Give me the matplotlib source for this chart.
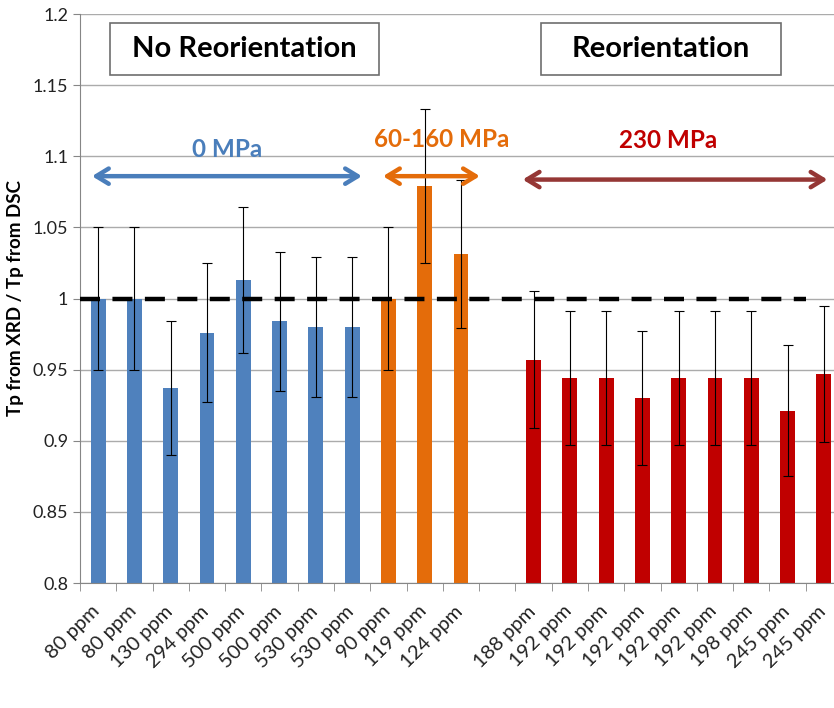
import matplotlib
matplotlib.use("Agg")
import matplotlib.pyplot as plt
import matplotlib.transforms as mtrans
from matplotlib.patches import Rectangle
import numpy as np

plt.rcParams['font.family'] = ['Lato', 'DejaVu Sans']

# bar data, slot 11 is an empty gap between the two groups
labels = ["80 ppm", "80 ppm", "130 ppm", "294 ppm", "500 ppm", "500 ppm", "530 ppm", "530 ppm",
          "90 ppm", "119 ppm", "124 ppm", "",
          "188 ppm", "192 ppm", "192 ppm", "192 ppm", "192 ppm", "192 ppm", "198 ppm", "245 ppm", "245 ppm"]
blue_vals = [1.0, 1.0, 0.937, 0.976, 1.013, 0.984, 0.980, 0.980]
blue_err = [0.050, 0.050, 0.047, 0.049, 0.051, 0.049, 0.049, 0.049]
orange_vals = [1.0, 1.079, 1.031]
orange_err = [0.050, 0.054, 0.052]
red_vals = [0.957, 0.944, 0.944, 0.930, 0.944, 0.944, 0.944, 0.921, 0.947]
red_err = [0.048, 0.047, 0.047, 0.047, 0.047, 0.047, 0.047, 0.046, 0.048]

x_blue = np.arange(0, 8)
x_orange = np.arange(8, 11)
x_red = np.arange(12, 21)

fig = plt.figure(figsize=(8.34, 7.08), dpi=100)
ax = fig.add_axes([80/834, 1-583/708, 762/834, 569/708])

ekw = dict(ecolor='black', elinewidth=0.8, capsize=3.5, capthick=0.8)
w = 0.41
ax.bar(x_blue, blue_vals, w, yerr=blue_err, color='#4F81BD', error_kw=ekw, zorder=2)
ax.bar(x_orange, orange_vals, w, yerr=orange_err, color='#E46C0A', error_kw=ekw, zorder=2)
ax.bar(x_red, red_vals, w, yerr=red_err, color='#C00000', error_kw=ekw, zorder=2)

# reference line at 1
ax.plot([-0.5, 19.5], [1.0, 1.0], color='black', lw=3.2, ls=(0, (4.5, 2.8)), zorder=3)

ax.set_xlim(-0.5, 20.5)
ax.set_ylim(0.8, 1.2)
ax.set_yticks(np.arange(0.8, 1.2001, 0.05))
ax.set_yticklabels(['0.8', '0.85', '0.9', '0.95', '1', '1.05', '1.1', '1.15', '1.2'])
ax.yaxis.grid(True, color='#ABABAB', lw=1)
ax.set_axisbelow(True)

ax.set_xticks(np.arange(21))
ax.set_xticklabels(labels, rotation=45, ha='right', rotation_mode='anchor', fontsize=14.5, color='#222222')
ax.tick_params(axis='x', length=0, pad=14)
shift = mtrans.ScaledTranslation(-5/72, 0, fig.dpi_scale_trans)
for t in ax.get_xticklabels():
    t.set_transform(t.get_transform() + shift)
ax.set_xticks(np.arange(-0.5, 21, 1), minor=True)
ax.tick_params(axis='x', which='minor', length=6, color='#868686')
ax.tick_params(axis='y', length=5, color='#868686', labelsize=13, labelcolor='#222222')

for s in ['top', 'right']:
    ax.spines[s].set_visible(False)
for s in ['left', 'bottom']:
    ax.spines[s].set_color('#868686')

ax.set_ylabel('Tp from XRD / Tp from DSC', fontsize=13.5, fontweight='bold')
ax.yaxis.set_label_coords(-0.0735, 0.5)

# group arrows and labels
arr = '<->,head_length=0.9,head_width=0.55'
ax.annotate('', xy=(-0.17, 1.086), xytext=(7.27, 1.086),
            arrowprops=dict(arrowstyle=arr, color='#4A7EBB', lw=3.2, shrinkA=0, shrinkB=0))
ax.annotate('', xy=(7.85, 1.086), xytext=(10.52, 1.086),
            arrowprops=dict(arrowstyle=arr, color='#E46C0A', lw=3.2, shrinkA=0, shrinkB=0))
ax.annotate('', xy=(11.7, 1.0836), xytext=(20.1, 1.0836),
            arrowprops=dict(arrowstyle=arr, color='#953735', lw=3.2, shrinkA=0, shrinkB=0))

ax.text(3.55, 1.105, '0 MPa', color='#4A7EBB', fontsize=17.5, fontweight='bold', ha='center', va='center')
ax.text(9.47, 1.112, '60-160 MPa', color='#E46C0A', fontsize=17.5, fontweight='bold', ha='center', va='center')
ax.text(15.7, 1.111, '230 MPa', color='#C00000', fontsize=17.5, fontweight='bold', ha='center', va='center')

# boxed headers
ax.add_patch(Rectangle((0.33, 1.157), 7.41, 0.0367, fc='white', ec='#6E6E6E', lw=1.2, zorder=4))
ax.add_patch(Rectangle((12.2, 1.157), 6.61, 0.0367, fc='white', ec='#6E6E6E', lw=1.2, zorder=4))
ax.text(4.03, 1.1755, 'No Reorientation', fontsize=21, fontweight='bold', ha='center', va='center', zorder=5)
ax.text(15.5, 1.1755, 'Reorientation', fontsize=21, fontweight='bold', ha='center', va='center', zorder=5)

fig.savefig('out.png', dpi=100)
